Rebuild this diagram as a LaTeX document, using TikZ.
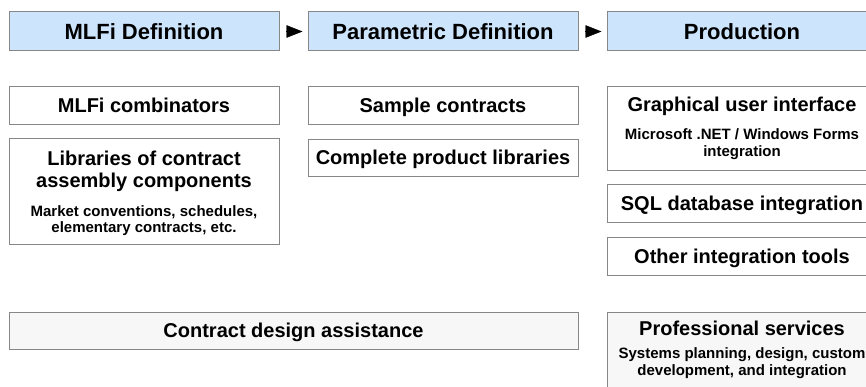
\documentclass[tikz,border=0pt]{standalone}
\usepackage{fontspec}
\setmainfont{Liberation Sans}
\usetikzlibrary{arrows.meta}
\definecolor{hdrblue}{RGB}{204,229,253}
\definecolor{bordergray}{RGB}{135,135,135}
\definecolor{lightfill}{RGB}{247,247,247}
\tikzset{
  panel/.style={draw=bordergray, line width=1pt, fill=white, inner sep=0pt, outer sep=0pt, anchor=north west, minimum width=270pt},
  hdrbox/.style={panel, fill=hdrblue, minimum height=39pt},
  greybox/.style={panel, fill=lightfill},
  hdrtext/.style={anchor=base, inner sep=0pt, font=\fontsize{22}{26}\selectfont\bfseries},
  maintext/.style={anchor=base, inner sep=0pt, font=\fontsize{20}{22}\selectfont\bfseries},
  subtext/.style={anchor=base, inner sep=0pt, font=\fontsize{15}{17}\selectfont\bfseries},
  flow/.style={-{Triangle[length=16pt,width=12.5pt]}, line width=0.4pt, shorten <=7pt, shorten >=5.5pt}
}
\begin{document}
\begin{tikzpicture}[x=1pt,y=-1pt]
\useasboundingbox (0,0) rectangle (866,387);
\clip (0,0) rectangle (866,387);
% header row
\node[hdrbox] (h1) at (9,12) {};
\node[hdrbox] (h2) at (308,12) {};
\node[hdrbox] (h3) at (607,12) {};
\node[hdrtext] (h1t) at (144,39.5) {MLFi Definition};
\node[hdrtext] (h2t) at (443,39.5) {Parametric Definition};
\node[hdrtext] (h3t) at (742,39.5) {Production};
\draw[flow] (h1.east) -- (h2.west);
\draw[flow] (h2.east) -- (h3.west);
% column 1
\node[panel, minimum height=38pt] (c1) at (9,87) {};
\node[maintext] (c1t) at (144,113) {MLFi combinators};
\node[panel, minimum height=105pt] (c2) at (9,139) {};
\node[maintext] (c2a) at (144,166) {Libraries of contract};
\node[maintext] (c2b) at (144,188) {assembly components};
\node[subtext] (c2c) at (144,217) {Market conventions, schedules,};
\node[subtext] (c2d) at (144,233) {elementary contracts, etc.};
% column 2
\node[panel, minimum height=38pt] (p1) at (308,87) {};
\node[maintext] (p1t) at (443,113) {Sample contracts};
\node[panel, minimum height=37pt] (p2) at (308,140) {};
\node[maintext] (p2t) at (443,165) {Complete product libraries};
% column 3
\node[panel, minimum height=84pt] (r1) at (607,87) {};
\node[maintext] (r1a) at (742,112) {Graphical user interface};
\node[subtext] (r1b) at (742,140) {Microsoft .NET / Windows Forms};
\node[subtext] (r1c) at (742,157) {integration};
\node[panel, minimum height=37pt] (r2) at (607,185) {};
\node[maintext] (r2t) at (742,210.5) {SQL database integration};
\node[panel, minimum height=38pt] (r3) at (607,237) {};
\node[maintext] (r3t) at (742,263) {Other integration tools};
% bottom row
\node[greybox, minimum width=569pt, minimum height=37pt] (b1) at (9,312) {};
\node[maintext] (b1t) at (293.5,337.5) {Contract design assistance};
\node[greybox, minimum height=90pt] (b2) at (607,312) {};
\node[maintext] (b2a) at (742,335) {Professional services};
\node[subtext] (b2b) at (742,358) {Systems planning, design, custom};
\node[subtext] (b2c) at (742,375) {development, and integration};
\end{tikzpicture}
\end{document}
